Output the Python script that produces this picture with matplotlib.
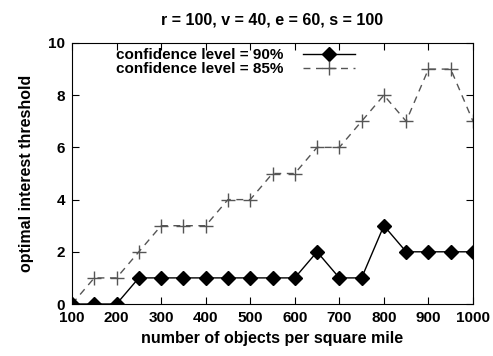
import matplotlib
matplotlib.use("Agg")
import matplotlib.pyplot as plt

plt.rcParams['font.family'] = ['Liberation Sans', 'DejaVu Sans']
plt.rcParams['font.weight'] = 'bold'

x = [100, 150, 200, 250, 300, 350, 400, 450, 500, 550, 600, 650, 700, 750, 800, 850, 900, 950, 1000]
conf90 = [0, 0, 0, 1, 1, 1, 1, 1, 1, 1, 1, 2, 1, 1, 3, 2, 2, 2, 2]
conf85 = [0, 1, 1, 2, 3, 3, 3, 4, 4, 5, 5, 6, 6, 7, 8, 7, 9, 9, 7]

fig = plt.figure(figsize=(4.93, 3.56), dpi=100)
ax = fig.add_axes([72 / 493, 1 - 304 / 356, 401 / 493, 261 / 356])

ax.plot(x, conf90, color='black', lw=1.0, marker='D', ms=7, label='confidence level = 90%', zorder=3)
ax.plot(x, conf85, color='#555555', lw=1.0, ls=(0, (5, 4)), marker='+', ms=10, mew=1.0,
        label='confidence level = 85%')

ax.set_xlim(100, 1000)
ax.set_ylim(0, 10)
ax.set_xticks(range(100, 1001, 100))
ax.set_yticks(range(0, 11, 2))
ax.tick_params(direction='in', top=True, right=True, labelsize=11, length=5, pad=5)
for lab in ax.get_xticklabels() + ax.get_yticklabels():
    lab.set_fontweight('bold')

ax.set_xlabel('number of objects per square mile', fontsize=11.5, fontweight='bold', labelpad=4)
ax.set_ylabel('optimal interest threshold', fontsize=11.5, fontweight='bold', labelpad=10)
ax.set_title('r = 100, v = 40, e = 60, s = 100', fontsize=11.5, fontweight='bold', pad=13)

ax.legend(loc='upper right', frameon=False, markerfirst=False, fontsize=11,
          handlelength=3.4, handletextpad=1.3, borderpad=0, borderaxespad=0,
          labelspacing=0.0, bbox_to_anchor=(355 / 493, 1 - 48 / 356),
          bbox_transform=fig.transFigure)

fig.savefig('out.png', dpi=100)
